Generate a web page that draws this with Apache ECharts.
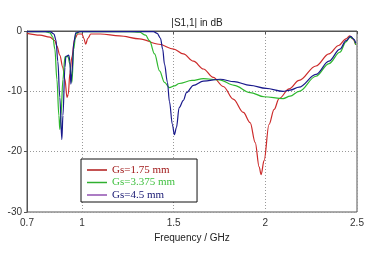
<!DOCTYPE html>
<html><head><meta charset="utf-8">
<script src="https://cdn.jsdelivr.net/npm/echarts@6/dist/echarts.min.js"></script>
<style>html,body{margin:0;padding:0;background:#fff}#c{width:368px;height:258px}</style>
</head><body><div id="c"></div>
<script>
var xTicks = [0.7, 1, 1.5, 2, 2.5];
var yTicks = [0, -10, -20, -30];
var seriesNames = ['Gs=1.75 mm', 'Gs=3.375 mm', 'Gs=4.5 mm'];

var freqRed = [0.70,0.77,0.825,0.852,0.863,0.879,0.895,0.907,0.918,0.925,0.934,0.945,0.96,0.977,1.0,1.01,1.02,1.032,1.048,1.10,1.205,1.314,1.42,1.50,1.553,1.608,1.662,1.716,1.771,1.825,1.88,1.917,1.945,1.966,1.977,1.993,2.02,2.048,2.075,2.13,2.184,2.276,2.347,2.40,2.44,2.46,2.477,2.493];
var dbRed   = [-0.4,-0.7,-1.0,-1.6,-2.5,-4.0,-6.0,-8.0,-11.0,-10.5,-7.0,-4.3,-1.3,-0.5,-0.5,-1.2,-2.2,-1.2,-0.5,-0.5,-0.8,-1.3,-2.2,-3.0,-3.8,-5.0,-6.3,-7.7,-9.2,-11.3,-13.5,-15.2,-18.5,-22.5,-23.8,-21.5,-15.5,-13.0,-11.2,-9.6,-8.2,-5.8,-3.8,-2.4,-1.3,-0.8,-1.3,-2.3];

var freqGreen = [0.70,0.80,0.825,0.841,0.852,0.863,0.874,0.879,0.885,0.896,0.907,0.923,0.934,0.945,0.955,0.966,0.988,1.097,1.26,1.314,1.347,1.368,1.396,1.423,1.45,1.477,1.504,1.53,1.60,1.662,1.749,1.83,1.917,1.993,2.097,2.135,2.184,2.276,2.347,2.407,2.44,2.46,2.477,2.493];
var dbGreen   = [-0.1,-0.1,-0.3,-1.0,-3.0,-8.0,-14.0,-16.3,-14.0,-8.0,-4.3,-4.2,-5.5,-8.5,-3.0,-0.5,-0.1,-0.1,-0.1,-0.2,-0.7,-1.6,-3.8,-6.6,-8.5,-9.4,-9.1,-8.7,-8.2,-7.9,-8.1,-9.0,-10.2,-10.9,-11.2,-10.8,-10.0,-7.5,-5.4,-3.5,-1.8,-1.0,-1.2,-2.3];

var freqBlue = [0.70,0.825,0.847,0.858,0.868,0.879,0.89,0.896,0.907,0.912,0.928,0.934,0.939,0.945,0.955,0.966,0.988,1.39,1.41,1.428,1.44,1.45,1.466,1.477,1.493,1.504,1.515,1.53,1.553,1.57,1.608,1.662,1.754,1.83,1.917,2.004,2.097,2.135,2.184,2.276,2.347,2.407,2.44,2.466,2.483,2.493];
var dbBlue   = [-0.1,-0.1,-0.5,-1.5,-5.0,-11.0,-18.0,-14.0,-6.0,-4.2,-4.0,-5.0,-8.8,-7.0,-2.0,-0.3,-0.1,-0.1,-0.4,-1.2,-3.0,-5.5,-8.5,-11.7,-15.5,-17.2,-16.0,-12.7,-11.5,-10.2,-9.0,-8.3,-8.0,-8.4,-9.0,-9.5,-10.0,-9.8,-9.3,-7.2,-5.0,-3.0,-1.6,-0.9,-1.4,-2.0];

function pairs(xs, ys){ return xs.map(function(x,i){ return [x, ys[i]]; }); }

var colors = ['#cc2a2a', '#2eb82e', '#1a1a8c'];
var legendIcon = ['#b01818', '#30b030', '#9050b0'];
var legendText = ['#a01818', '#40c040', '#141470'];
var sans = 'Liberation Sans';

var chart = echarts.init(document.getElementById('c'), null, {renderer:'canvas'});
var mk = function(name, xs, ys, c){
  return {name:name, type:'line', data:pairs(xs, ys), showSymbol:false, symbol:'none',
    smooth:0.35, smoothMonotone:'x', lineStyle:{color:c, width:1.2}, itemStyle:{color:c}, z:3};
};
chart.setOption({
  animation:false,
  backgroundColor:'#fff',
  title:{text:'|S1,1| in dB', left:192, top:13, textAlign:'center',
    textStyle:{fontFamily:sans, fontSize:10, fontWeight:'normal', color:'#222'}},
  grid:{left:27, right:11, top:31, bottom:46, show:true, borderColor:'#555', borderWidth:1, backgroundColor:'#fff'},
  xAxis:{type:'value', min:0.7, max:2.5,
    name:'Frequency / GHz', nameLocation:'middle', nameGap:20,
    nameTextStyle:{fontFamily:sans, fontSize:10, color:'#222'},
    axisLine:{show:true, lineStyle:{color:'#555'}},
    axisTick:{show:true, length:3, lineStyle:{color:'#555'}, customValues:xTicks},
    axisLabel:{fontFamily:sans, fontSize:10, color:'#333', margin:6, customValues:xTicks,
      formatter:function(v){ return String(v); }},
    splitLine:{show:true, lineStyle:{color:'#999', type:[1,2], width:1}}},
  yAxis:{type:'value', min:-30, max:0, interval:10,
    axisLine:{show:true, lineStyle:{color:'#555'}},
    axisTick:{show:true, length:3, lineStyle:{color:'#555'}},
    axisLabel:{fontFamily:sans, fontSize:10, color:'#333', margin:5},
    splitLine:{show:true, lineStyle:{color:'#999', type:[1,2], width:1}}},
  legend:{orient:'vertical', left:81, top:159, backgroundColor:'#fff', borderColor:'#111', borderWidth:1,
    padding:[5,22,1,6], itemGap:0.5, itemWidth:20, itemHeight:1.5, icon:'rect',
    data:seriesNames.map(function(n,i){ return {name:n, itemStyle:{color:legendIcon[i]}, textStyle:{color:legendText[i]}}; }),
    textStyle:{fontFamily:'Liberation Serif', fontSize:11, lineHeight:12}},
  series:[
    mk(seriesNames[0], freqRed, dbRed, colors[0]),
    mk(seriesNames[1], freqGreen, dbGreen, colors[1]),
    mk(seriesNames[2], freqBlue, dbBlue, colors[2])
  ]
});
</script></body></html>
